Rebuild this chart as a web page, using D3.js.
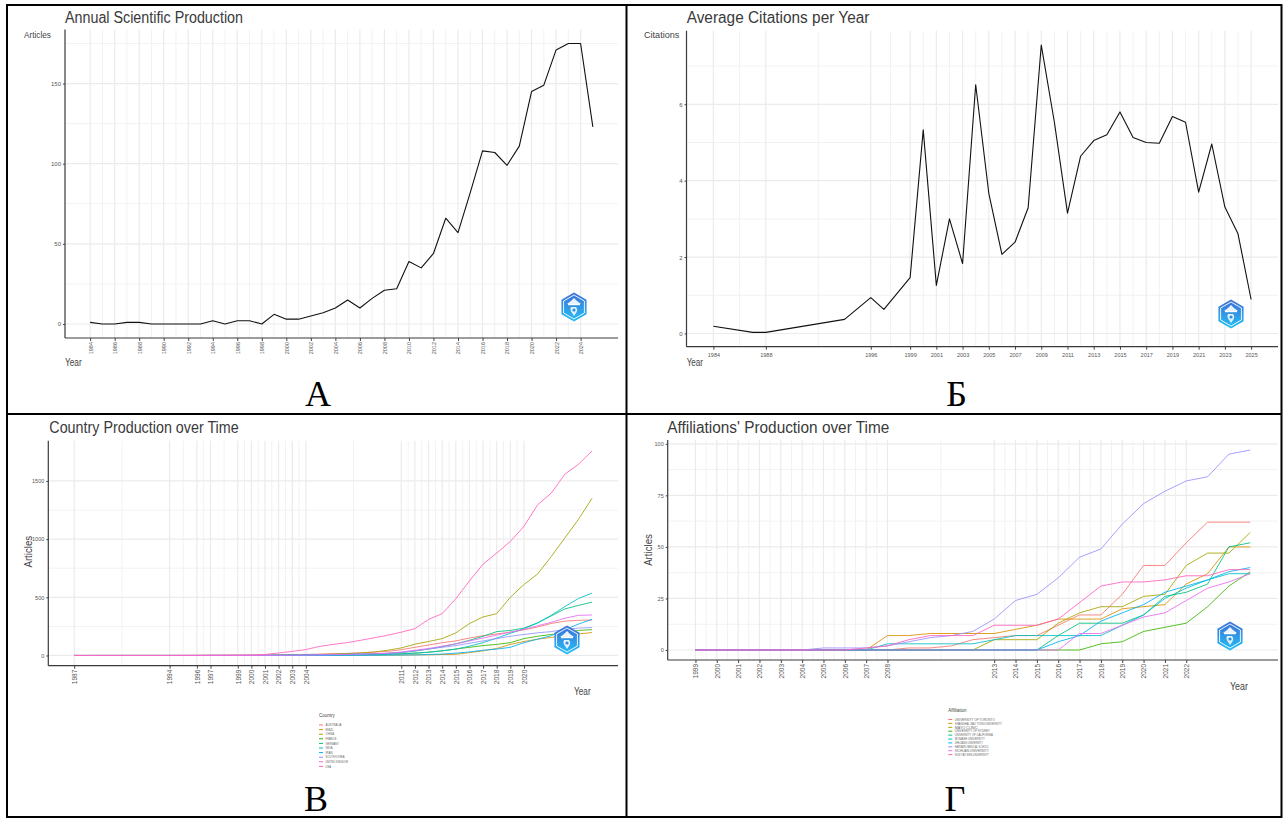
<!DOCTYPE html>
<html><head><meta charset="utf-8">
<script src="https://cdn.jsdelivr.net/npm/d3@7"></script>
<style>body{margin:0;background:#fff}svg{display:block}</style>
</head><body>
<script>
// ---------- DATA ----------
// Panel A: Annual Scientific Production
const prodYears = [1984,1985,1986,1987,1988,1989,1990,1991,1992,1993,1994,1995,1996,1997,1998,1999,2000,2001,2002,2003,2004,2005,2006,2007,2008,2009,2010,2011,2012,2013,2014,2015,2016,2017,2018,2019,2020,2021,2022,2023,2024,2025];
const prodArticles = [1,0,0,1,1,0,0,0,0,0,2,0,2,2,0,6,3,3,5,7,10,15,10,16,21,22,39,35,44,66,57,82,108,107,99,111,145,149,171,175,175,123];
const prodTicksX = [1984,1986,1988,1990,1992,1994,1996,1998,2000,2002,2004,2006,2008,2010,2012,2014,2016,2018,2020,2022,2024];
const prodTicksY = [0,50,100,150];

// Panel B: Average Citations per Year
const citeYears = [1984,1987,1988,1994,1996,1997,1999,2000,2001,2002,2003,2004,2005,2006,2007,2008,2009,2010,2011,2012,2013,2014,2015,2016,2017,2018,2019,2020,2021,2022,2023,2024,2025];
const citeValues = [0.19,0.03,0.03,0.37,0.94,0.63,1.46,5.33,1.26,3.0,1.83,6.51,3.67,2.07,2.39,3.29,7.55,5.53,3.15,4.64,5.05,5.20,5.80,5.13,5.00,4.98,5.68,5.53,3.70,4.96,3.31,2.61,0.89];
const citeTicksX = [1984,1988,1996,1999,2001,2003,2005,2007,2009,2011,2013,2015,2017,2019,2021,2023,2025];
const citeTicksY = [0,2,4,6];

// Panel C: Country Production over Time (cumulative)
const countryYears = [1987,1994,1996,1997,1999,2000,2001,2002,2003,2004,2005,2006,2007,2008,2009,2010,2011,2012,2013,2014,2015,2016,2017,2018,2019,2020,2021,2022,2023,2024,2025];
const countryNames = ["AUSTRALIA","BRAZIL","CHINA","FRANCE","GERMANY","INDIA","IRAN","SOUTH KOREA","UNITED KINGDOM","USA"];
const cAustralia = [0,0,0,0,1,1,2,4,6,9,12,15,18,22,28,35,50,70,90,110,125,150,170,185,200,220,245,275,295,302,305];
const cBrazil    = [0,0,0,0,0,0,0,0,1,1,1,1,1,2,2,3,4,5,6,8,10,25,40,60,95,120,140,155,170,185,197];
const cChina     = [0,0,0,0,0,0,1,2,3,5,8,12,16,22,30,45,65,97,120,145,194,274,331,359,500,610,700,850,1010,1170,1352];
const cFrance    = [0,0,0,0,0,0,1,3,4,5,6,7,8,9,10,12,15,20,28,40,55,70,85,95,110,145,165,180,200,215,222];
const cGermany   = [0,0,0,1,1,1,2,3,4,5,6,8,10,12,15,18,25,38,55,75,100,130,165,205,215,235,280,340,400,430,459];
const cIndia     = [0,0,0,0,0,0,0,1,1,2,3,4,5,6,8,10,14,20,28,40,55,80,110,150,190,230,280,345,420,490,536];
const cIran      = [0,0,0,0,0,0,0,0,0,0,0,0,1,1,2,3,4,5,8,12,20,30,45,55,70,110,140,170,220,270,311];
const cKorea     = [0,0,0,0,0,0,1,2,3,4,6,8,10,12,15,18,25,40,55,70,85,105,125,145,165,180,195,205,225,235,240];
const cUK        = [0,0,0,0,0,0,1,2,3,4,5,7,9,12,15,20,30,45,60,80,100,125,150,175,200,225,255,285,320,345,348];
const cUSA       = [0,1,2,3,4,5,8,22,35,51,78,95,110,130,152,174,200,231,310,359,488,640,785,880,980,1110,1295,1395,1558,1644,1758];
const countryTicksX = [1987,1994,1996,1997,1999,2000,2001,2002,2003,2004,2011,2012,2013,2014,2015,2016,2017,2018,2019,2020];
const countryTicksY = [0,500,1000,1500];

// Panel D: Affiliations' Production over Time (cumulative)
const affYears = [1999,2000,2001,2002,2003,2004,2005,2006,2007,2008,2009,2010,2011,2012,2013,2014,2015,2016,2017,2018,2019,2020,2021,2022,2023,2024,2025];
const affNames = ["UNIVERSITY OF TORONTO","SHANGHAI JIAO TONG UNIVERSITY","MAYO CLINIC","UNIVERSITY OF SYDNEY","UNIVERSITY OF CALIFORNIA","MONASH UNIVERSITY","ZHEJIANG UNIVERSITY","HARVARD MEDICAL SCHOOL","SICHUAN UNIVERSITY","SUN YAT-SEN UNIVERSITY"];
const a1  = [0,0,0,0,0,0,0,0,0,0,1,1,2,5,6,7,7,12,17,17,27,41,41,52,62,62,62];
const a2  = [0,0,0,0,0,0,0,0,0,7,7,8,8,8,8,10,12,15,15,15,20,21,22,32,37,50,50];
const a3  = [0,0,0,0,0,0,0,0,0,0,0,0,0,0,5,5,5,13,18,21,21,26,27,41,47,47,57];
const a4  = [0,0,0,0,0,0,0,0,0,0,0,0,0,0,0,0,0,0,0,3,4,9,11,13,21,31,38];
const a5  = [0,0,0,0,0,0,0,0,0,0,0,0,0,0,0,0,0,7,13,13,13,17,26,28,32,50,52];
const a6  = [0,0,0,0,0,0,0,0,0,3,3,3,3,3,5,7,7,7,7,7,12,17,25,30,34,37,37];
const a7  = [0,0,0,0,0,0,0,0,0,0,0,0,0,0,0,0,0,4,7,14,18,22,28,31,34,38,40];
const a8  = [0,0,0,0,0,0,1,1,1,2,4,6,7,9,15,24,27,35,45,49,61,71,77,82,84,95,97];
const a9  = [0,0,0,0,0,0,0,0,0,0,0,0,0,0,0,0,0,0,8,8,12,16,18,24,30,33,37];
const a10 = [0,0,0,0,0,0,0,0,1,2,5,7,7,7,12,12,12,15,23,31,33,33,34,36,36,39,39];
const affTicksX = [1999,2000,2001,2002,2003,2004,2005,2006,2007,2008,2013,2014,2015,2016,2017,2018,2019,2020,2021,2022];
const affTicksY = [0,25,50,75,100];

const hue10 = ["#F8766D","#D89000","#A3A500","#39B600","#00BF7D","#00BFC4","#00B0F6","#9590FF","#E76BF3","#FF62BC"];

// ---------- DRAWING ----------
const W = 1285, H = 820;
const SANS = "'Liberation Sans', Arial, sans-serif";
const svg = d3.select("body").append("svg").attr("width", W).attr("height", H);
svg.append("rect").attr("width", W).attr("height", H).attr("fill", "#fff");

const defs = svg.append("defs");
const lg = defs.append("linearGradient").attr("id","logoGrad").attr("x1",0).attr("y1",0).attr("x2",0).attr("y2",1);
lg.append("stop").attr("offset","0%").attr("stop-color","#3f6fd6");
lg.append("stop").attr("offset","100%").attr("stop-color","#22c0f5");

function pad(ext){const r = ext[1]-ext[0]; return [ext[0]-0.05*r, ext[1]+0.05*r];}
function mids(a){const m=[]; for(let i=0;i<a.length-1;i++) m.push((a[i]+a[i+1])/2); return m;}

function drawPanel(o){
  const g = svg.append("g");
  const x = d3.scaleLinear().domain(pad(o.xExt)).range([o.l, o.r]);
  const y = d3.scaleLinear().domain(pad(o.yExt)).range([o.b, o.t]);
  const yMinor = mids(o.yTicks).concat(o.yExtraMinor || []);
  const xMinor = o.xMinor || mids(o.xTicks);
  // grid
  g.append("g").selectAll("line").data(yMinor).join("line")
    .attr("x1", o.l).attr("x2", o.r).attr("y1", d=>y(d)).attr("y2", d=>y(d))
    .attr("stroke", "#f2f2f2").attr("stroke-width", 1);
  g.append("g").selectAll("line").data(xMinor).join("line")
    .attr("y1", o.t).attr("y2", o.b).attr("x1", d=>x(d)).attr("x2", d=>x(d))
    .attr("stroke", "#f2f2f2").attr("stroke-width", 1);
  g.append("g").selectAll("line").data(o.yTicks).join("line")
    .attr("x1", o.l).attr("x2", o.r).attr("y1", d=>y(d)).attr("y2", d=>y(d))
    .attr("stroke", "#ebebeb").attr("stroke-width", 1.2);
  g.append("g").selectAll("line").data(o.xTicks).join("line")
    .attr("y1", o.t).attr("y2", o.b).attr("x1", d=>x(d)).attr("x2", d=>x(d))
    .attr("stroke", "#ebebeb").attr("stroke-width", 1.2);

  // series
  const line = d3.line().x(d=>x(d[0])).y(d=>y(d[1]));
  o.series.forEach(s => {
    g.append("path").datum(o.years.map((yr,i)=>[yr, s.values[i]]))
      .attr("d", line).attr("fill","none").attr("stroke", s.color)
      .attr("stroke-width", s.width || 1).attr("stroke-opacity", s.opacity || 1)
      .attr("stroke-linejoin","round");
  });

  // axes
  const ax = g.append("g").attr("transform", `translate(0,${o.b})`)
    .call(d3.axisBottom(x).tickValues(o.xTicks).tickFormat(d3.format("d")).tickSize(3).tickSizeOuter(0));
  ax.select(".domain").remove();
  ax.selectAll("line").attr("stroke", "#444");
  ax.selectAll("text").attr("fill", "#555").attr("font-family", SANS).attr("font-size", o.xFont || 6);
  if (o.rotate) {
    ax.selectAll("text").attr("transform","rotate(-90)").attr("x", -4).attr("y", 0)
      .attr("dy","0.35em").attr("text-anchor","end");
  } else {
    ax.selectAll("text").attr("y", 6);
  }
  const ay = g.append("g").attr("transform", `translate(${o.l},0)`)
    .call(d3.axisLeft(y).tickValues(o.yTicks).tickFormat(d3.format("d")).tickSize(2).tickPadding(2).tickSizeOuter(0));
  ay.select(".domain").remove();
  ay.selectAll("line").attr("stroke", "#444");
  ay.selectAll("text").attr("fill", "#555").attr("font-family", SANS).attr("font-size", o.yFont || 6);

  g.append("line").attr("x1", o.l).attr("x2", o.l).attr("y1", o.t).attr("y2", o.b).attr("stroke", "#3a3a3a").attr("stroke-width", 1.2);
  g.append("line").attr("x1", o.l).attr("x2", o.r).attr("y1", o.b).attr("y2", o.b).attr("stroke", "#3a3a3a").attr("stroke-width", 1.2);

  // title
  g.append("text").attr("x", o.titleX).attr("y", o.titleY).text(o.title)
    .attr("font-family", SANS).attr("font-size", 16).attr("fill", "#3a3a3a")
    .attr("textLength", o.titleLen).attr("lengthAdjust", "spacingAndGlyphs");
  return {x, y, g};
}

function logo(cx, cy){
  const g = svg.append("g").attr("transform", `translate(${cx},${cy})`);
  const hex = r => d3.range(6).map(k => { const a = (-90 + 60*k) * Math.PI/180; return [r*Math.cos(a), r*Math.sin(a)]; });
  g.append("polygon").attr("points", hex(14.5).map(p=>p.join(",")).join(" ")).attr("fill", "url(#logoGrad)");
  g.append("polygon").attr("points", hex(12).map(p=>p.join(",")).join(" ")).attr("fill","none").attr("stroke","#fff").attr("stroke-width",0.9);
  g.append("path").attr("d","M-7,-3 L-3,-6 L0,-9 L3,-6 L7,-3 Z").attr("fill","#fff").attr("opacity",0.9);
  g.append("rect").attr("x",-6).attr("y",-3).attr("width",12).attr("height",1.2).attr("fill","#fff");
  g.append("path").attr("d","M-3,0 C-5,4 -1,6 0,9 C2,6 5,3 2,0 Z").attr("fill","#fff").attr("opacity",0.85);
  g.append("circle").attr("cx",0).attr("cy",3).attr("r",1.6).attr("fill","#2a8ee6");
}

function axisTitle(txt, xx, yy, len, size, rot){
  const t = svg.append("text").text(txt).attr("font-family", SANS).attr("font-size", size).attr("fill", "#444")
    .attr("textLength", len).attr("lengthAdjust","spacingAndGlyphs");
  if (rot) t.attr("transform", `translate(${xx},${yy}) rotate(-90)`).attr("text-anchor","middle").attr("dy","0.35em");
  else t.attr("x", xx).attr("y", yy);
}

// Panel A
drawPanel({
  l: 65, r: 618, t: 29.5, b: 338,
  xExt: d3.extent(prodYears), yExt: [0, d3.max(prodArticles)],
  xTicks: prodTicksX, xMinor: mids(prodTicksX), yTicks: prodTicksY, yExtraMinor: [175],
  years: prodYears, series: [{values: prodArticles, color: "#111", width: 1.1}],
  rotate: true, xFont: 5.5, yFont: 6,
  title: "Annual Scientific Production", titleX: 65, titleY: 22.7, titleLen: 178
});
axisTitle("Articles", 24, 37.5, 27, 9);
axisTitle("Year", 65, 366, 16.7, 10);
logo(574, 307);

// Panel B
drawPanel({
  l: 686.5, r: 1278, t: 30.7, b: 346.7,
  xExt: d3.extent(citeYears), yExt: d3.extent(citeValues),
  xTicks: citeTicksX, yTicks: citeTicksY, yExtraMinor: [7],
  years: citeYears, series: [{values: citeValues, color: "#111", width: 1.1}],
  rotate: false, xFont: 5.5, yFont: 6,
  title: "Average Citations per Year", titleX: 686.7, titleY: 22.7, titleLen: 182.7
});
axisTitle("Citations", 644, 37.5, 35.3, 9);
axisTitle("Year", 686.7, 365.5, 16.3, 10);
logo(1231, 314);

// Panel C
const countrySeries = [cAustralia,cBrazil,cChina,cFrance,cGermany,cIndia,cIran,cKorea,cUK,cUSA]
  .map((v,i)=>({values:v, color:hue10[i], width:1, opacity:0.85}));
drawPanel({
  l: 48.3, r: 618, t: 440.7, b: 665.7,
  xExt: d3.extent(countryYears), yExt: [0, d3.max(cUSA)],
  xTicks: countryTicksX, yTicks: countryTicksY,
  years: countryYears, series: countrySeries,
  rotate: true, xFont: 6.5, yFont: 5.5,
  title: "Country Production over Time", titleX: 49.3, titleY: 433, titleLen: 189.4
});
axisTitle("Articles", 28.3, 551.7, 31.7, 10.5, true);
axisTitle("Year", 574, 695, 16.7, 10);
logo(567, 640);

// Panel D
const affSeries = [a1,a2,a3,a4,a5,a6,a7,a8,a9,a10]
  .map((v,i)=>({values:v, color:hue10[i], width:1, opacity:0.85}));
drawPanel({
  l: 667.7, r: 1278, t: 440, b: 660,
  xExt: d3.extent(affYears), yExt: [0, d3.max(a8)],
  xTicks: affTicksX, yTicks: affTicksY,
  years: affYears, series: affSeries,
  rotate: true, xFont: 6.5, yFont: 5.5,
  title: "Affiliations' Production over Time", titleX: 667.3, titleY: 433, titleLen: 222
});
axisTitle("Articles", 648.3, 550, 31.7, 10.5, true);
axisTitle("Year", 1230, 690, 18, 10);
logo(1230, 636);

// Legends
function legend(x0, y0, title, names, step, lens){
  const g = svg.append("g");
  g.append("text").attr("x", x0).attr("y", y0).text(title).attr("font-family", SANS)
    .attr("font-size", 4.5).attr("fill", "#444");
  names.forEach((n,i)=>{
    const yy = y0 + 8 + i*step;
    g.append("line").attr("x1", x0).attr("x2", x0+4).attr("y1", yy).attr("y2", yy)
      .attr("stroke", hue10[i]).attr("stroke-width", 1);
    g.append("text").attr("x", x0+6.5).attr("y", yy).attr("dy","0.35em").text(n)
      .attr("font-family", SANS).attr("font-size", 3.6).attr("fill", "#666")
      .attr("textLength", lens[i]).attr("lengthAdjust","spacingAndGlyphs");
  });
}
legend(319, 717, "Country", countryNames, 4.6, [16,8,8.5,11,13.5,7,7,19,22.5,5.5]);
legend(948.3, 711.5, "Affiliation", affNames, 3.9, [40,47,23,35,38,30,28,34,34,34]);

// Panel letters
const SERIF = "'Liberation Serif', 'Times New Roman', serif";
[["А",318,406],["Б",956.7,406],["В",316,811],["Г",955,811]].forEach(d=>{
  svg.append("text").attr("x", d[1]).attr("y", d[2]).attr("text-anchor","middle").text(d[0])
    .attr("font-family", SERIF).attr("font-size", 36).attr("fill", "#000");
});

// Frame (table borders)
const frame = [[7,5,1282,5],[7,414,1282,414],[7,817,1282,817],[7,4,7,818],[626.5,4,626.5,818],[1281.5,4,1281.5,818]];
svg.append("g").selectAll("line").data(frame).join("line")
  .attr("x1", d=>d[0]).attr("y1", d=>d[1]).attr("x2", d=>d[2]).attr("y2", d=>d[3])
  .attr("stroke", "#000").attr("stroke-width", 2);
</script>
</body></html>
